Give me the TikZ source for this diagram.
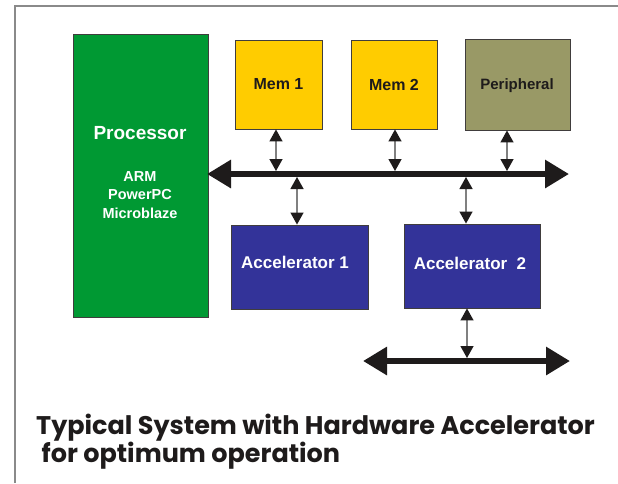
\documentclass[tikz,border=0pt]{standalone}
\usepackage{fontspec}
\setmainfont{Liberation Sans}
\newfontfamily\capfont{Poppins}
\usetikzlibrary{arrows.meta, positioning}
\definecolor{procgreen}{HTML}{009933}
\definecolor{memyellow}{HTML}{FFCC00}
\definecolor{perolive}{HTML}{999966}
\definecolor{accblue}{HTML}{333399}
\definecolor{inkblack}{HTML}{1E1B1B}
\definecolor{framegray}{HTML}{8A8A8A}

\tikzset{
    blockbox/.style={draw=inkblack!85, line width=0.9pt, inner sep=0pt, font=\bfseries},
    busline/.style={draw=inkblack, line width=6pt,
        {Triangle[length=24pt,width=27pt,color=inkblack]}-{Triangle[length=24pt,width=27pt,color=inkblack]}},
    tapline/.style={draw=black!50, line width=1.3pt, shorten >=3pt,
        {Triangle[length=12pt,width=13pt,color=inkblack]}-{Triangle[length=12pt,width=13pt,color=inkblack]}}
}

\begin{document}
\begin{tikzpicture}[x=1pt, y=-1pt]
                \useasboundingbox (0,0) rectangle (618,483);
                \fill[white] (0,0) rectangle (618,483);
                \draw[framegray, line width=1.5pt] (15,483) -- (15,6) -- (618,6);

                \node[blockbox, fill=procgreen, minimum width=135pt, minimum height=283pt] (proc) at (140.5,175.5) {};
                \node[white, font=\bfseries\fontsize{19}{22}\selectfont] (proctitle) at (140,133) {Processor};
                \node[white, font=\bfseries\fontsize{14.5}{18.5}\selectfont, align=center] (procnames) at (140,195) {ARM\\PowerPC\\Microblaze};

                \node[blockbox, fill=memyellow, minimum width=87pt, minimum height=89pt, text=inkblack, font=\bfseries\fontsize{16}{18}\selectfont] (mem1) at (278.5,84.5) {Mem 1};
                \node[blockbox, fill=memyellow, minimum width=86pt, minimum height=89pt, text=inkblack, font=\bfseries\fontsize{16}{18}\selectfont] (mem2) at (394,84.5) {Mem 2};
                \node[blockbox, fill=perolive, minimum width=105pt, minimum height=91pt, text=inkblack, font=\bfseries\fontsize{15}{17}\selectfont] (periph) at (517.5,84.5) {};
                \node[text=inkblack, font=\bfseries\fontsize{15}{17}\selectfont] (periphlabel) at (517,86) {Peripheral};

                \node[blockbox, fill=accblue, minimum width=137pt, minimum height=84pt] (acc1) at (299.5,267) {};
                \node[white, font=\bfseries\fontsize{17}{20}\selectfont] (acc1label) at (295,262) {Accelerator 1};
                \node[blockbox, fill=accblue, minimum width=136pt, minimum height=84pt] (acc2) at (472,266) {};
                \node[white, font=\bfseries\fontsize{17}{20}\selectfont] (acc2label) at (470,263) {Accelerator\ \ 2};

                \coordinate (busL) at (207,174);
                \coordinate (busR) at (569,174);
                \coordinate (lowL) at (363,361);
                \coordinate (lowR) at (570,361);
                \draw[busline] (busL) -- (busR);
                \draw[busline] (lowL) -- (lowR);

                \coordinate (tapmemA) at (276,174);
                \coordinate (tapmemB) at (395,174);
                \coordinate (tapper) at (507,174);
                \coordinate (tapaccA) at (297,174);
                \coordinate (tapaccB) at (466,174);
                \coordinate (taplow) at (467,361);

                \draw[tapline] (mem1.south -| tapmemA) -- (tapmemA);
                \draw[tapline] (mem2.south -| tapmemB) -- (tapmemB);
                \draw[tapline] (periph.south -| tapper) -- (tapper);
                \draw[tapline] (acc1.north -| tapaccA) -- (tapaccA);
                \draw[tapline] (acc2.north -| tapaccB) -- (tapaccB);
                \draw[tapline] (acc2.south -| taplow) -- (taplow);

                \node[anchor=base west, inner sep=0pt, text=inkblack, font=\capfont\bfseries\fontsize{25.5}{28}\selectfont, align=left] (caption) at (36,462) {Typical System with Hardware Accelerator\\\ for optimum operation};
            \end{tikzpicture}
\end{document}
